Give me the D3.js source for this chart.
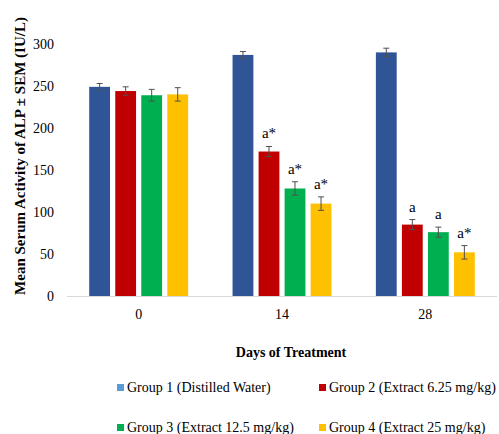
<!DOCTYPE html>
<html>
<head>
<meta charset="utf-8">
<script src="https://cdn.jsdelivr.net/npm/d3@7"></script>
<style>
  html, body { margin: 0; padding: 0; background: #fff; }
</style>
</head>
<body>
<svg id="chart" width="499" height="434"></svg>
<script>
// Treatment days (x categories)
const days = ["0", "14", "28"];
// Group names for the legend
const groups = [
  "Group 1 (Distilled Water)",
  "Group 2 (Extract 6.25 mg/kg)",
  "Group 3 (Extract 12.5 mg/kg)",
  "Group 4 (Extract 25 mg/kg)"
];
const barColors = ["#2F5597", "#C00000", "#00B050", "#FFC000"];
const legendColors = ["#5B9BD5", "#C00000", "#00B050", "#FFC000"];

// Mean ALP (IU/L) per group, one value per day
const group1Mean = [249, 287, 290];
const group2Mean = [244, 172, 85];
const group3Mean = [239, 128, 76];
const group4Mean = [240, 110, 52];
// SEM per group, one value per day
const group1Sem = [4, 4, 5];
const group2Sem = [5, 6, 6];
const group3Sem = [7, 8, 6];
const group4Sem = [8, 8, 8];
// Significance marks per group, one per day
const group1Mark = ["", "", ""];
const group2Mark = ["", "a*", "a"];
const group3Mark = ["", "a*", "a"];
const group4Mark = ["", "a*", "a*"];
// Y axis ticks
const yTicks = [0, 50, 100, 150, 200, 250, 300];

const FONT = "'Liberation Serif', 'Times New Roman', Times, 'DejaVu Serif', serif";

const means = [group1Mean, group2Mean, group3Mean, group4Mean];
const sems = [group1Sem, group2Sem, group3Sem, group4Sem];
const marks = [group1Mark, group2Mark, group3Mark, group4Mark];

const rows = [];
days.forEach((d, di) => {
  groups.forEach((g, gi) => {
    rows.push({ day: d, gi, mean: means[gi][di], sem: sems[gi][di], mark: marks[gi][di] });
  });
});

const svg = d3.select("#chart");

const x0 = d3.scaleBand().domain(days).range([67, 497]).paddingInner(0.31).paddingOuter(0.155);
const x1 = d3.scaleBand().domain(d3.range(groups.length)).range([0, x0.bandwidth()]).paddingInner(0.2);
const y = d3.scaleLinear().domain([0, 300]).range([296, 44]);

// Baseline
svg.append("line")
  .attr("x1", 67).attr("x2", 497)
  .attr("y1", y(0) + 0.5).attr("y2", y(0) + 0.5)
  .attr("stroke", "#d9d9d9").attr("stroke-width", 1);

// Y axis labels
const yAxis = d3.axisLeft(y).tickValues(yTicks).tickSize(0).tickPadding(0);
const yg = svg.append("g").attr("transform", "translate(54,0)").call(yAxis)
  .attr("font-family", FONT).attr("font-size", 14);
yg.select(".domain").remove();
yg.selectAll("text").attr("fill", "#000");

// X axis labels
const xAxis = d3.axisBottom(x0).tickSize(0).tickPadding(0);
const xg = svg.append("g").attr("transform", "translate(0,309)").call(xAxis)
  .attr("font-family", FONT).attr("font-size", 14);
xg.select(".domain").remove();
xg.selectAll("text").attr("fill", "#000");

// Bars
const bx = d => x0(d.day) + x1(d.gi);
svg.append("g").selectAll("rect").data(rows).join("rect")
  .attr("x", bx)
  .attr("y", d => y(d.mean))
  .attr("width", x1.bandwidth())
  .attr("height", d => y(0) - y(d.mean))
  .attr("fill", d => barColors[d.gi]);

// Error bars
const eb = svg.append("g").attr("stroke", "#505050").attr("stroke-width", 1);
rows.forEach(d => {
  const cx = bx(d) + x1.bandwidth() / 2;
  eb.append("line").attr("x1", cx).attr("x2", cx).attr("y1", y(d.mean - d.sem)).attr("y2", y(d.mean + d.sem));
  eb.append("line").attr("x1", cx - 3).attr("x2", cx + 3).attr("y1", y(d.mean + d.sem)).attr("y2", y(d.mean + d.sem));
  eb.append("line").attr("x1", cx - 3).attr("x2", cx + 3).attr("y1", y(d.mean - d.sem)).attr("y2", y(d.mean - d.sem));
});

// Significance marks
svg.append("g").attr("font-family", FONT).attr("font-size", 15)
  .selectAll("text").data(rows.filter(d => d.mark)).join("text")
  .attr("x", d => bx(d) + x1.bandwidth() / 2)
  .attr("y", d => y(d.mean + d.sem) - 8)
  .attr("text-anchor", "middle")
  .text(d => d.mark);

// Axis titles
svg.append("text")
  .attr("transform", "translate(25,156) rotate(-90)")
  .attr("text-anchor", "middle")
  .attr("font-family", FONT).attr("font-size", 15).attr("font-weight", "bold")
  .text("Mean Serum Activity of ALP \u00B1 SEM (IU/L)");

svg.append("text")
  .attr("x", 291).attr("y", 357)
  .attr("text-anchor", "middle")
  .attr("font-family", FONT).attr("font-size", 14).attr("font-weight", "bold")
  .text("Days of Treatment");

// Legend (2 x 2)
const legendPos = [[117, 384], [319, 384], [117, 424], [319, 424]];
const lg = svg.append("g").attr("font-family", FONT).attr("font-size", 14);
groups.forEach((g, i) => {
  const [lx, ly] = legendPos[i];
  lg.append("rect").attr("x", lx).attr("y", ly).attr("width", 7).attr("height", 7).attr("fill", legendColors[i]);
  lg.append("text").attr("x", lx + 10).attr("y", ly + 8).text(g);
});
</script>
</body>
</html>
